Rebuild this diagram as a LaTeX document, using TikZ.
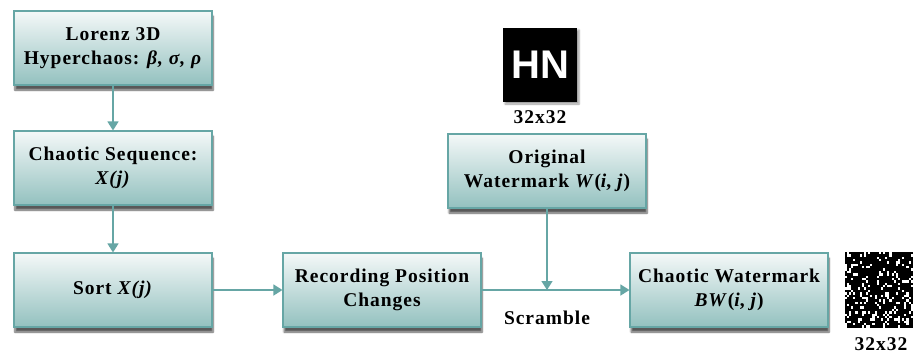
\documentclass[tikz,border=0pt]{standalone}
\usepackage{fontspec}
\setmainfont{Liberation Serif}
\newfontfamily\hnfont{Liberation Sans}
\usetikzlibrary{arrows.meta,shadows.blur}

\definecolor{tealline}{HTML}{66A6A5}
\definecolor{tealtop}{HTML}{F4F8F8}
\definecolor{tealbot}{HTML}{93C1BF}

\newcommand{\blockfont}{\fontsize{19.5}{24.5}\selectfont\bfseries\addfontfeatures{LetterSpace=5}}

\tikzset{
  block/.style={draw=tealline, line width=1.1pt, top color=tealtop, bottom color=tealbot,
    minimum width=198pt, minimum height=74pt, align=center, font=\blockfont,
    blur shadow={shadow xshift=1pt, shadow yshift=-5pt, shadow blur steps=6, shadow opacity=65}},
  link/.style={->, draw=tealline, line width=1.4pt},
  sizelabel/.style={font=\blockfont}
}

\begin{document}
\begin{tikzpicture}[x=1pt, y=-1pt, >={Triangle[width=11pt,length=9pt]}]
    \useasboundingbox (0,0) rectangle (915,354);

    % Blöcke
    \node[block] (lorenz) at (113,48) {Lorenz 3D\\Hyperchaos: \textit{β, σ, ρ}};
    \node[block] (seq) at (113,168) {Chaotic Sequence:\\\textit{X(j)}};
    \node[block] (sort) at (113,290) {Sort \textit{X(j)}};
    \node[block] (rec) at (382,290) {Recording Position\\Changes};
    \node[block] (orig) at (547,171) {Original\\Watermark \textit{W}(\textit{i}, \textit{j})};
    \node[block] (cwm) at (729,290) {Chaotic Watermark\\\textit{BW}(\textit{i}, \textit{j})};

    % Wasserzeichen-Bilder
    \node[fill=black, minimum width=74pt, minimum height=74pt, inner sep=0pt,
      blur shadow={shadow xshift=2pt, shadow yshift=-2pt, shadow blur steps=4, shadow opacity=40},
      text=white, font=\hnfont\fontsize{40}{40}\selectfont\bfseries] (hn) at (540,65) {HN};
    \node[sizelabel] (hnsize) at (540,117) {32x32};

    \node[fill=black, minimum width=68pt, minimum height=76pt, inner sep=0pt] (noise) at (879,290) {};
    \pgfmathsetseed{17}
    \foreach \i in {0,...,31} {
      \foreach \j in {0,...,31} {
        \pgfmathparse{rnd<0.2 ? 1 : 0}
        \ifnum\pgfmathresult=1
          \fill[white] ([shift={(\i*2.125,\j*2.375)}]noise.north west) rectangle ++(2.125,2.375);
        \fi
      }
    }
    \node[sizelabel] (noisesize) at (881,344) {32x32};

    % Verbindungen
    \coordinate (join) at (orig.south |- rec.east);
    \draw[link] (lorenz) -- (seq);
    \draw[link] (seq) -- (sort);
    \draw[link] (sort) -- (rec);
    \draw[link] (rec) -- (cwm);
    \draw[link] (orig) -- (join);
    \node[font=\blockfont] (scramble) at (547,318) {Scramble};
\end{tikzpicture}
\end{document}
